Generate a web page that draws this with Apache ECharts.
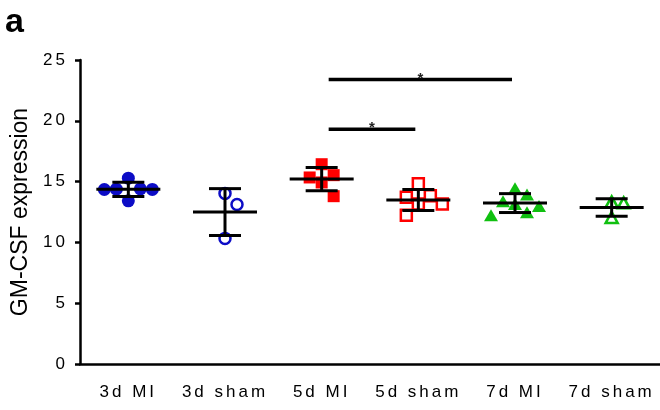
<!DOCTYPE html>
<html>
<head>
<meta charset="utf-8">
<script src="https://cdn.jsdelivr.net/npm/echarts@6/dist/echarts.min.js"></script>
<style>
  html, body { margin: 0; padding: 0; background: #fff; }
  #chart { width: 660px; height: 410px; }
</style>
</head>
<body>
<div id="chart"></div>
<script>
// Groups along the x axis
const groups = ['3d MI', '3d sham', '5d MI', '5d sham', '7d MI', '7d sham'];

// GM-CSF expression of each animal, one array per group
const mi3   = [14.40, 14.36, 15.28, 13.42, 14.38, 14.35];
const sham3 = [14.03, 13.12, 10.33];
const mi5   = [16.43, 15.34, 15.53, 14.93, 13.80];
const sham5 = [14.82, 13.83, 13.72, 13.15, 13.15, 12.24];
const mi7   = [14.45, 13.93, 13.39, 13.00, 13.15, 12.47, 12.24];
const sham7 = [13.33, 13.25, 12.05];

// Value axis ticks
const yTicks = [0, 5, 10, 15, 20, 25];

// Significance brackets: from group, to group, bracket height, mark
const sigFrom  = ['5d MI', '5d MI'];
const sigTo    = ['7d MI', '5d sham'];
const sigLevel = [23.4, 19.3];
const sigMark  = ['*', '*'];

// ---------------------------------------------------------------------
const groupValues = [mi3, sham3, mi5, sham5, mi7, sham7];
const BLUE = '#0c0cc6', RED = '#ff0000', GREEN = '#10c010';
const markers = [
  { symbol: 'circle',   size: 13,       color: BLUE,  hollow: false },
  { symbol: 'circle',   size: 11,       color: BLUE,  hollow: true },
  { symbol: 'rect',     size: 12,       color: RED,   hollow: false },
  { symbol: 'rect',     size: 11,       color: RED,   hollow: true },
  { symbol: 'triangle', size: [14, 12], color: GREEN, hollow: false },
  { symbol: 'triangle', size: [12, 11], color: GREEN, hollow: true }
];

// Tick labels use Liberation Sans with open tracking, everything else is plain
const TRACKING = '3px';
const nativeFillText = CanvasRenderingContext2D.prototype.fillText;
CanvasRenderingContext2D.prototype.fillText = function (text, x, y, maxWidth) {
  if ('letterSpacing' in this) {
    this.letterSpacing = this.font.indexOf('Liberation') >= 0 ? TRACKING : '0px';
  }
  return maxWidth === undefined
    ? nativeFillText.call(this, text, x, y)
    : nativeFillText.call(this, text, x, y, maxWidth);
};

function mean(a) { return a.reduce((s, v) => s + v, 0) / a.length; }
function sd(a) {
  const m = mean(a);
  return Math.sqrt(a.reduce((s, v) => s + (v - m) * (v - m), 0) / (a.length - 1));
}

// Beeswarm: spread points sideways (in pixels) so that symbols don't pile up.
// Two points clash when they are closer than w sideways and h vertically.
function swarm(pixelYs, w, h, step) {
  const order = pixelYs.map((y, i) => i).sort((a, b) => pixelYs[a] - pixelYs[b]);
  const placed = [];
  const offsets = new Array(pixelYs.length).fill(0);
  const free = (dx, y) => placed.every(p => Math.abs(p.dx - dx) >= w || Math.abs(p.y - y) >= h);
  order.forEach(idx => {
    const y = pixelYs[idx];
    const bias = placed.reduce((s, p) => s + p.dx, 0);
    for (let k = 0; k < 200; k++) {
      const d = k * step;
      const sides = d === 0 ? [0] : (bias > 0 ? [-d, d] : [d, -d]);
      const hit = sides.find(dx => free(dx, y));
      if (hit !== undefined) {
        offsets[idx] = hit;
        placed.push({ dx: hit, y: y });
        break;
      }
    }
  });
  return offsets;
}

const chart = echarts.init(document.getElementById('chart'), null, { renderer: 'canvas' });

const tickFont = { fontFamily: 'Liberation Sans', fontSize: 17, color: '#000' };

function pointSeries(offsetsPerGroup) {
  return groupValues.map((vals, g) => {
    const mk = markers[g];
    return {
      type: 'scatter',
      name: groups[g],
      symbol: mk.symbol,
      symbolSize: mk.size,
      z: 2,
      itemStyle: mk.hollow
        ? { color: '#fff', borderColor: mk.color, borderWidth: 2.5, opacity: 1 }
        : { color: mk.color, opacity: 1 },
      emphasis: { disabled: true },
      data: vals.map((v, i) => ({
        value: [groups[g], v],
        symbolOffset: [offsetsPerGroup ? offsetsPerGroup[g][i] : 0, 0]
      }))
    };
  });
}

// Mean with SD whiskers for every group
const summary = groupValues.map((vals, g) => [g, mean(vals), sd(vals)]);
const errorSeries = {
  type: 'custom',
  z: 5,
  silent: true,
  data: summary,
  encode: { x: 0, y: 1 },
  renderItem: function (params, api) {
    const c  = api.coord([api.value(0), api.value(1)]);
    const hi = api.coord([api.value(0), api.value(1) + api.value(2)]);
    const lo = api.coord([api.value(0), api.value(1) - api.value(2)]);
    const st = { stroke: '#000', lineWidth: 3 };
    return {
      type: 'group',
      children: [
        { type: 'line', shape: { x1: c[0] - 32, y1: c[1], x2: c[0] + 32, y2: c[1] }, style: st },
        { type: 'line', shape: { x1: c[0], y1: hi[1], x2: c[0], y2: lo[1] }, style: st },
        { type: 'line', shape: { x1: c[0] - 16, y1: hi[1], x2: c[0] + 16, y2: hi[1] }, style: st },
        { type: 'line', shape: { x1: c[0] - 16, y1: lo[1], x2: c[0] + 16, y2: lo[1] }, style: st }
      ]
    };
  }
};

// Significance brackets with their marks
const sigData = sigFrom.map((f, i) => [groups.indexOf(f), groups.indexOf(sigTo[i]), sigLevel[i], i]);
const sigSeries = {
  type: 'custom',
  z: 6,
  silent: true,
  data: sigData,
  encode: { x: [0, 1], y: 2 },
  renderItem: function (params, api) {
    const a = api.coord([api.value(0), api.value(2)]);
    const b = api.coord([api.value(1), api.value(2)]);
    const x1 = a[0] + 7, x2 = b[0] - 3;
    return {
      type: 'group',
      children: [
        { type: 'line', shape: { x1: x1, y1: a[1], x2: x2, y2: a[1] },
          style: { stroke: '#000', lineWidth: 3.5 } },
        { type: 'text', x: (x1 + x2) / 2, y: a[1] - 1,
          style: { text: sigMark[api.value(3)], fill: '#222', font: 'bold 15px Arial',
                   textAlign: 'center', textVerticalAlign: 'middle' } }
      ]
    };
  }
};

function buildOption(offsets) {
  return {
    animation: false,
    grid: { left: 80, right: 0, top: 60, bottom: 46 },
    graphic: [{
      type: 'text', left: 5, top: 6,
      style: { text: 'a', font: 'bold 34px Arial', fill: '#000' }
    }],
    xAxis: {
      type: 'category',
      data: groups,
      boundaryGap: true,
      axisLine: { lineStyle: { color: '#000', width: 2.5 } },
      axisTick: { alignWithLabel: true, length: 5, lineStyle: { color: '#000', width: 2.5 } },
      axisLabel: Object.assign({ margin: 20, interval: 0 }, tickFont),
      splitLine: { show: false }
    },
    yAxis: {
      type: 'value',
      min: yTicks[0],
      max: yTicks[yTicks.length - 1],
      interval: yTicks[1] - yTicks[0],
      name: 'GM-CSF expression',
      nameLocation: 'middle',
      nameGap: 48,
      nameTextStyle: { fontFamily: 'Arial', fontSize: 23, color: '#000' },
      axisLine: { show: true, lineStyle: { color: '#000', width: 2.5 } },
      axisTick: { show: true, length: 5, lineStyle: { color: '#000', width: 2.5 } },
      axisLabel: Object.assign({ margin: 12 }, tickFont),
      splitLine: { show: false }
    },
    series: pointSeries(offsets).concat([errorSeries, sigSeries])
  };
}

chart.setOption(buildOption(null));

// Lay the points out once the axes exist
const offsets = groupValues.map((vals, g) => {
  const ys = vals.map(v => chart.convertToPixel({ xAxisIndex: 0, yAxisIndex: 0 }, [groups[g], v])[1]);
  return swarm(ys, 12, 14, 4);
});
chart.setOption(buildOption(offsets), { notMerge: true });
</script>
</body>
</html>
